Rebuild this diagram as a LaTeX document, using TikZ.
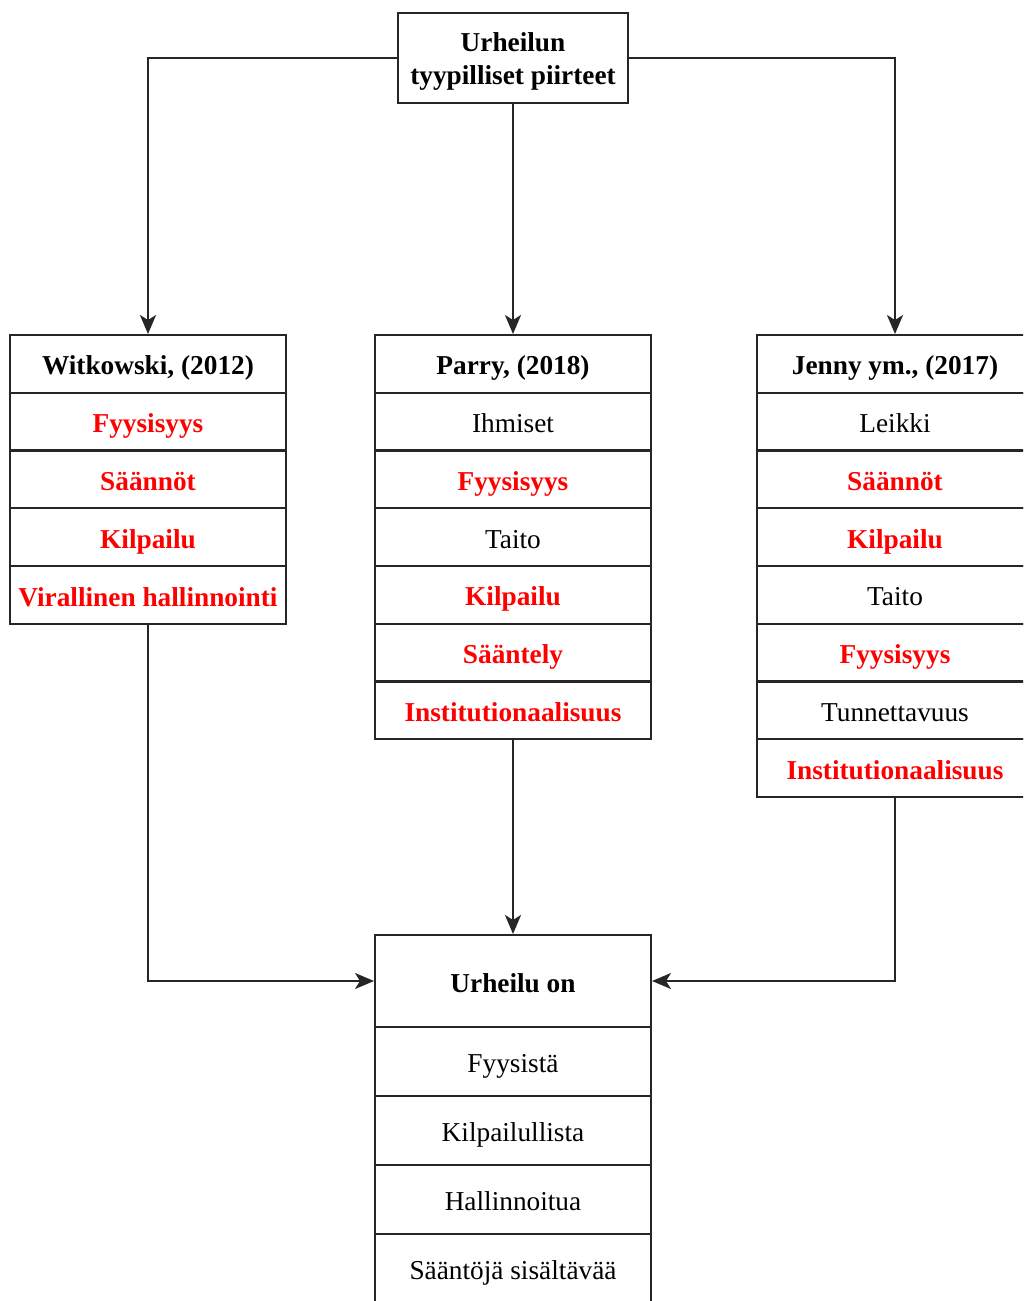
\documentclass[tikz,border=0pt]{standalone}
\usepackage{fontspec}
\setmainfont{Liberation Serif}
\usetikzlibrary{arrows.meta}
\definecolor{redtxt}{HTML}{FF0000}
\begin{document}
\begin{tikzpicture}[x=1pt,y=-1pt,
  cell/.style={draw=black!85, line width=2pt, rectangle, minimum width=276pt, inner sep=0pt, text height=25pt, text depth=3pt, font=\fontsize{27.3}{31}\selectfont},
  row/.style={cell, minimum height=57.75pt},
  hd/.style={font=\fontsize{27.3}{31}\selectfont\bfseries},
  rd/.style={text=redtxt, font=\fontsize{27.3}{31}\selectfont\bfseries},
  brow/.style={cell, minimum height=69pt},
  arr/.style={draw=black!85, line width=2pt, -{Stealth[length=19pt,width=16pt,inset=5pt]}}
]
\useasboundingbox (0,0) rectangle (1023,1301);
\clip (0,0) rectangle (1023,1301);

% top box
\node[draw=black!85, line width=2pt, inner sep=0pt, minimum width=230pt, minimum height=90pt] (top) at (513,58) {};
\node[align=center, inner sep=0pt, font=\fontsize{27.3}{33}\selectfont\bfseries] (toptext) at ([yshift=-3pt]top.center) {Urheilun\\tyypilliset piirteet};

% Witkowski table
\node[row,hd] (w0) at (148,363.9) {Witkowski, (2012)};
\node[row,rd] (w1) at (148,421.6) {Fyysisyys};
\node[row,rd] (w2) at (148,479.4) {Säännöt};
\node[row,rd] (w3) at (148,537.1) {Kilpailu};
\node[row,rd] (w4) at (148,595.1) {Virallinen hallinnointi};

% Parry table
\node[row,hd] (p0) at (513,363.9) {Parry, (2018)};
\node[row] (p1) at (513,421.6) {Ihmiset};
\node[row,rd] (p2) at (513,479.4) {Fyysisyys};
\node[row] (p3) at (513,537.1) {Taito};
\node[row,rd] (p4) at (513,594.9) {Kilpailu};
\node[row,rd] (p5) at (513,652.6) {Sääntely};
\node[row,rd] (p6) at (513,710.4) {Institutionaalisuus};

% Jenny table
\node[row,hd] (j0) at (895,363.9) {Jenny ym., (2017)};
\node[row] (j1) at (895,421.6) {Leikki};
\node[row,rd] (j2) at (895,479.4) {Säännöt};
\node[row,rd] (j3) at (895,537.1) {Kilpailu};
\node[row] (j4) at (895,594.9) {Taito};
\node[row,rd] (j5) at (895,652.6) {Fyysisyys};
\node[row] (j6) at (895,710.4) {Tunnettavuus};
\node[row,rd] (j7) at (895,768.1) {Institutionaalisuus};

% Bottom box
\node[cell, minimum height=92pt, hd] (u0) at (513,981) {Urheilu on};
\node[brow] (u1) at (513,1061.5) {Fyysistä};
\node[brow] (u2) at (513,1130.5) {Kilpailullista};
\node[brow] (u3) at (513,1199.5) {Hallinnoitua};
\node[brow] (u4) at (513,1268.5) {Sääntöjä sisältävää};

% connectors
\draw[arr] (top.west) -| (w0.north);
\draw[arr] (top.south) -- (p0.north);
\draw[arr] (top.east) -| (j0.north);
\draw[arr] (w4.south) |- (u0.west);
\draw[arr] (p6.south) -- (u0.north);
\draw[arr] (j7.south) |- (u0.east);
\end{tikzpicture}
\end{document}
